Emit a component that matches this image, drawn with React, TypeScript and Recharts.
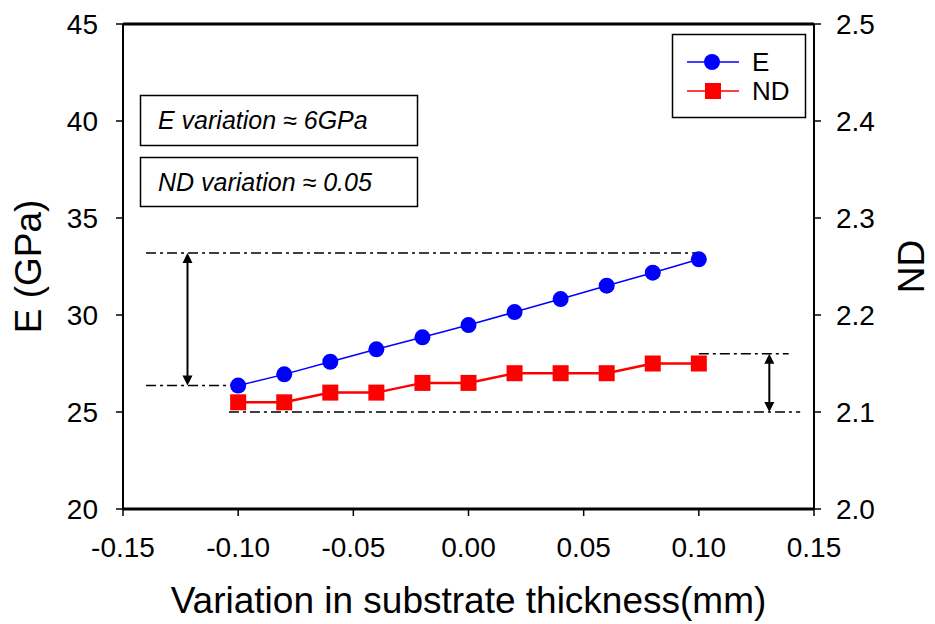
import { ComposedChart, Line, XAxis, YAxis, ReferenceLine } from "recharts";

// measured points
const xValues = [-0.1, -0.08, -0.06, -0.04, -0.02, 0, 0.02, 0.04, 0.06, 0.08, 0.1];
const eValues = [26.36, 26.94, 27.59, 28.23, 28.85, 29.48, 30.15, 30.82, 31.51, 32.18, 32.87];
const ndValues = [2.11, 2.11, 2.12, 2.12, 2.13, 2.13, 2.14, 2.14, 2.14, 2.15, 2.15];

// axes
const xTicks = [-0.15, -0.1, -0.05, 0, 0.05, 0.1, 0.15];
const eTicks = [20, 25, 30, 35, 40, 45];
const ndTicks = [2.0, 2.1, 2.2, 2.3, 2.4, 2.5];

// variation markers (E: min/max, ND: min/max)
const eSpan = [26.36, 33.2];
const ndSpan = [2.1, 2.16];
const eGuideX = [-0.14, -0.1, 0.1];
const ndGuideX = [-0.104, 0.1, 0.139, 0.144];
const eArrowX = -0.122;
const ndArrowX = 0.1306;

const notes = ["E variation \u2248 6GPa", "ND variation \u2248 0.05"];

const FONT = "'Liberation Sans', Arial, sans-serif";
const BLUE = "#0000ff";
const RED = "#ff0000";
const DASH = "10 4 3 4";

const data = xValues.map((x, i) => ({ x, E: eValues[i], ND: ndValues[i] }));

function Circle(props: any) {
  const { cx, cy } = props;
  if (cx == null || cy == null) return null;
  return <circle cx={cx} cy={cy} r={8} fill={BLUE} />;
}

function Square(props: any) {
  const { cx, cy } = props;
  if (cx == null || cy == null) return null;
  return <rect x={cx - 8} y={cy - 8} width={16} height={16} fill={RED} />;
}

function DoubleArrow(props: any) {
  const { x1, y1, x2, y2 } = props;
  if (x1 == null) return null;
  const top = Math.min(y1, y2);
  const bot = Math.max(y1, y2);
  const x = x1;
  return (
    <g>
      <line x1={x} y1={top + 6} x2={x} y2={bot - 6} stroke="#000" strokeWidth={2} />
      <polygon points={`${x},${top} ${x - 5},${top + 10} ${x + 5},${top + 10}`} fill="#000" />
      <polygon points={`${x},${bot} ${x - 5},${bot - 10} ${x + 5},${bot - 10}`} fill="#000" />
    </g>
  );
}

function YTitle({ viewBox, text, dx }: any) {
  const cx = viewBox.x + dx;
  const cy = viewBox.y + viewBox.height / 2;
  return (
    <text
      x={cx}
      y={cy}
      transform={`rotate(-90 ${cx} ${cy})`}
      textAnchor="middle"
      dominantBaseline="central"
      fontSize={37}
      fontFamily={FONT}
      fill="#000"
    >
      {text}
    </text>
  );
}

function XTitle({ viewBox }: any) {
  const cx = viewBox.x + viewBox.width / 2;
  return (
    <text x={cx} y={viewBox.y + 91} textAnchor="middle" dominantBaseline="central" fontSize={37} fontFamily={FONT} fill="#000">
      Variation in substrate thickness(mm)
    </text>
  );
}

export default function App() {
  const tickStyle = { fontSize: 28, fontFamily: FONT, fill: "#000" };
  return (
    <div style={{ position: "absolute", left: 0, top: 0, background: "#fff" }}>
      <ComposedChart width={935} height={624} data={data} margin={{ top: 24, right: 0, bottom: 0, left: 0 }}>
        <XAxis
          dataKey="x"
          type="number"
          domain={[-0.15, 0.15]}
          ticks={xTicks}
          tickFormatter={(v: number) => v.toFixed(2)}
          height={115}
          axisLine={{ stroke: "#000", strokeWidth: 3 }}
          tickLine={{ stroke: "#000", strokeWidth: 1.5 }}
          tickSize={7}
          tickMargin={21}
          tick={tickStyle}
          label={<XTitle />}
        />
        <YAxis
          yAxisId="left"
          domain={[20, 45]}
          ticks={eTicks}
          width={123}
          axisLine={{ stroke: "#000", strokeWidth: 2 }}
          tickLine={{ stroke: "#000", strokeWidth: 1.5 }}
          tickSize={7}
          tickMargin={18}
          tick={tickStyle}
          label={<YTitle text="E (GPa)" dx={28} />}
        />
        <YAxis
          yAxisId="right"
          orientation="right"
          domain={[2.0, 2.5]}
          ticks={ndTicks}
          tickFormatter={(v: number) => v.toFixed(1)}
          width={121}
          axisLine={{ stroke: "#000", strokeWidth: 2 }}
          tickLine={{ stroke: "#000", strokeWidth: 1.5 }}
          tickSize={7}
          tickMargin={15}
          tick={tickStyle}
          label={<YTitle text="ND" dx={97} />}
        />

        {/* top frame */}
        <ReferenceLine yAxisId="left" y={45} stroke="#000" strokeWidth={3} ifOverflow="visible" />

        {/* E variation guides */}
        <ReferenceLine
          yAxisId="left"
          segment={[{ x: eGuideX[0], y: eSpan[1] }, { x: eGuideX[2], y: eSpan[1] }]}
          stroke="#000"
          strokeWidth={1.5}
          strokeDasharray={DASH}
          ifOverflow="visible"
        />
        <ReferenceLine
          yAxisId="left"
          segment={[{ x: eGuideX[0], y: eSpan[0] }, { x: eGuideX[1], y: eSpan[0] }]}
          stroke="#000"
          strokeWidth={1.5}
          strokeDasharray={DASH}
          ifOverflow="visible"
        />
        <ReferenceLine
          yAxisId="left"
          segment={[{ x: eArrowX, y: eSpan[0] }, { x: eArrowX, y: eSpan[1] }]}
          shape={<DoubleArrow />}
          ifOverflow="visible"
        />

        {/* ND variation guides */}
        <ReferenceLine
          yAxisId="right"
          segment={[{ x: ndGuideX[1], y: ndSpan[1] }, { x: ndGuideX[2], y: ndSpan[1] }]}
          stroke="#000"
          strokeWidth={1.5}
          strokeDasharray={DASH}
          ifOverflow="visible"
        />
        <ReferenceLine
          yAxisId="right"
          segment={[{ x: ndGuideX[0], y: ndSpan[0] }, { x: ndGuideX[3], y: ndSpan[0] }]}
          stroke="#000"
          strokeWidth={1.5}
          strokeDasharray={DASH}
          ifOverflow="visible"
        />
        <ReferenceLine
          yAxisId="right"
          segment={[{ x: ndArrowX, y: ndSpan[0] }, { x: ndArrowX, y: ndSpan[1] }]}
          shape={<DoubleArrow />}
          ifOverflow="visible"
        />

        <Line
          yAxisId="left"
          dataKey="E"
          stroke={BLUE}
          strokeWidth={1.5}
          dot={<Circle />}
          activeDot={false}
          isAnimationActive={false}
        />
        <Line
          yAxisId="right"
          dataKey="ND"
          stroke={RED}
          strokeWidth={2.5}
          dot={<Square />}
          activeDot={false}
          isAnimationActive={false}
        />

        {/* text boxes */}
        <g fontFamily={FONT} fontSize={25} fontStyle="italic">
          <rect x={140.5} y={95.5} width={277} height={50} fill="#fff" stroke="#000" strokeWidth={1.5} />
          <text x={158} y={129}>{notes[0]}</text>
          <rect x={140.5} y={157.5} width={277} height={49} fill="#fff" stroke="#000" strokeWidth={1.5} />
          <text x={158} y={191}>{notes[1]}</text>
        </g>

        {/* legend */}
        <g fontFamily={FONT} fontSize={26}>
          <rect x={672.5} y={34.5} width={133} height={83} fill="#fff" stroke="#000" strokeWidth={1.5} />
          <line x1={687} y1={62} x2={739} y2={62} stroke={BLUE} strokeWidth={1.5} />
          <circle cx={712} cy={62} r={8} fill={BLUE} />
          <text x={752} y={62} dominantBaseline="central">E</text>
          <line x1={687} y1={91} x2={739} y2={91} stroke={RED} strokeWidth={1.5} />
          <rect x={705} y={83} width={16} height={16} fill={RED} />
          <text x={752} y={91} dominantBaseline="central">ND</text>
        </g>
      </ComposedChart>
    </div>
  );
}
